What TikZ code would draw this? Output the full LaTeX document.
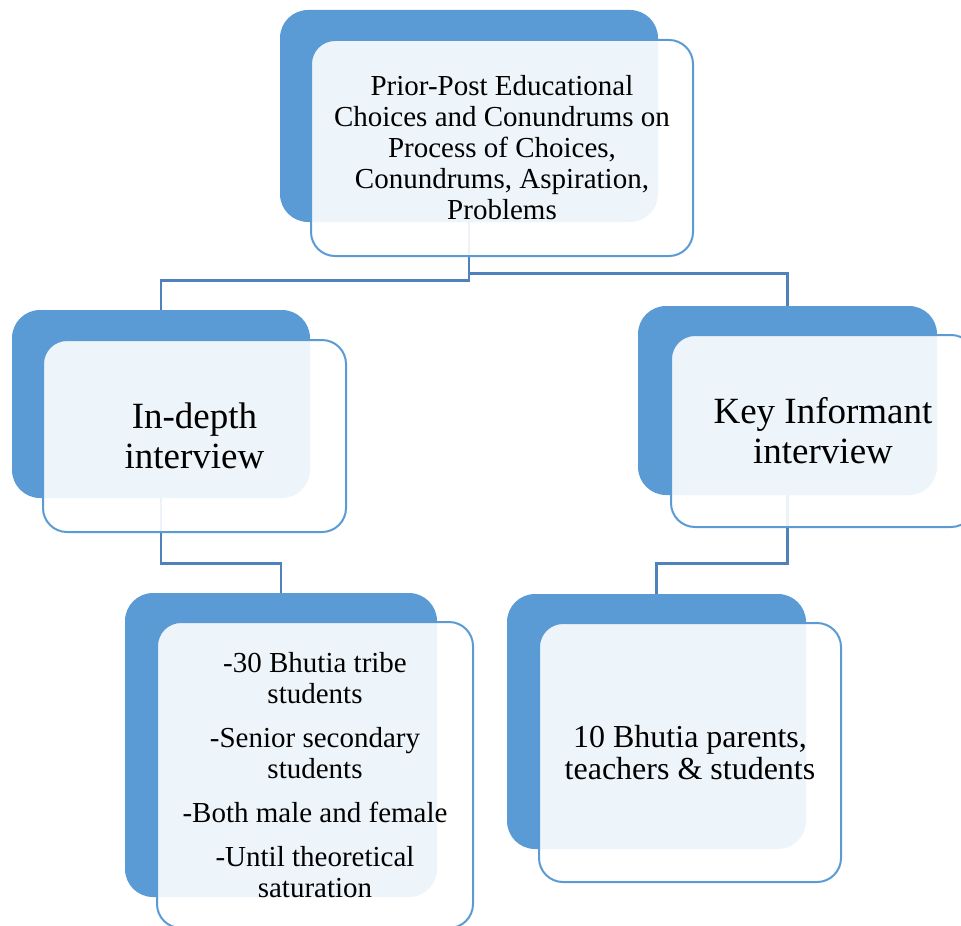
\documentclass[tikz,border=0pt]{standalone}
\usepackage{fontspec}
\setmainfont{Liberation Serif}
\definecolor{boxblue}{HTML}{5B9BD5}
\definecolor{edgeblue}{HTML}{5B9BD5}
\definecolor{linkblue}{HTML}{4F81BD}
\begin{document}
\begin{tikzpicture}
		[	x=0.5pt,y=-0.5pt,
		back/.style={rectangle,draw=none,fill=boxblue,rounded corners=14pt},
		front/.style={rectangle,draw=edgeblue,line width=1pt,fill=white,fill opacity=0.9,text opacity=1,rounded corners=12pt,align=center,inner sep=0pt},
		small/.style={font=\fontsize{14.5}{15.5}\selectfont},
		medium/.style={font=\fontsize{16}{16}\selectfont},
		big/.style={font=\fontsize{18.5}{20}\selectfont},
		link/.style={draw=linkblue,line width=1.2pt},
		]
		\useasboundingbox (0,0) rectangle (961,925);
		\clip (0,0) rectangle (961,925);

		\node[back,name=top,minimum width=189pt,minimum height=106pt] at (469,116){};
		\node[back,name=indepth,minimum width=149pt,minimum height=94pt] at (161,404){};
		\node[back,name=keyinf,minimum width=149.5pt,minimum height=94.5pt] at (787.5,400.5){};
		\node[back,name=sample,minimum width=156pt,minimum height=152pt] at (281,745){};
		\node[back,name=informants,minimum width=149.5pt,minimum height=127.5pt] at (656.5,721.5){};

		\draw[link] (top.south) -- ++(0,58) -| (indepth.north);
		\draw[link] (top.south) -- ++(0,51) -| (keyinf.north);
		\draw[link] (indepth.south) -- ++(0,65) -| (sample.north);
		\draw[link] (keyinf.south) -- ++(0,68) -| (informants.north);

		\node[front,small,name=topf,minimum width=191pt,minimum height=108pt] at (502,148)
			{Prior-Post Educational\\Choices and Conundrums on\\Process of Choices,\\Conundrums, Aspiration,\\Problems};
		\node[front,big,name=indepthf,minimum width=151.5pt,minimum height=96pt] at (194.5,436)
			{In-depth\\interview};
		\node[front,big,name=keyinff,minimum width=152pt,minimum height=96pt] at (823,431)
			{Key Informant\\interview};
		\node[front,small,name=samplef,minimum width=158pt,minimum height=153pt] at (315,775)
			{-30 Bhutia tribe\\students\\[6.5pt]-Senior secondary\\students\\[6.5pt]-Both male and female\\[6.5pt]-Until theoretical\\saturation};
		\node[front,medium,name=informantsf,minimum width=151pt,minimum height=129.5pt] at (690,752.5)
			{10 Bhutia parents,\\teachers \& students};
	\end{tikzpicture}
\end{document}
